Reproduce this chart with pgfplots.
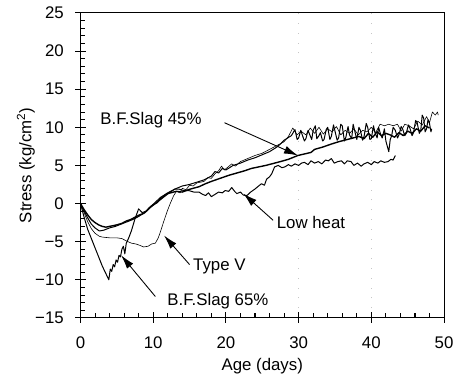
\documentclass[border=0pt]{standalone}
\usepackage{pgfplots}
\pgfplotsset{compat=1.18}
\usepackage{fontspec}
\setmainfont{Liberation Sans}
\usetikzlibrary{arrows.meta}
\newcommand{\fs}{\fontsize{17}{19}\selectfont}
\begin{document}
\fs
\begin{tikzpicture}
\begin{axis}[
 scale only axis, width=366bp, height=307bp,
 xmin=0, xmax=50, ymin=-15, ymax=25,
 xtick={0,10,20,30,40,50}, ytick={-15,-10,-5,0,5,10,15,20,25},
 yticklabels={−15,−10,−5,0,5,10,15,20,25},
 minor x tick num=4, minor y tick num=4,
 tick align=inside, xtick pos=left, ytick pos=left,
 major tick length=6bp, minor tick length=4.5bp,
 tick style={draw=black, line width=1pt},
 axis line style={line width=0.9pt},
 xlabel={Age (days)}, ylabel={Stress (kg/cm\textsuperscript{2})},
 every axis x label/.style={at={(axis description cs:0.5,0)}, anchor=center, yshift=-49bp},
 every axis y label/.style={at={(axis description cs:0,0.5)}, rotate=90, anchor=center, yshift=55bp},
 /pgf/number format/assume math mode=true,
 xticklabel style={font=\fs, yshift=-13bp},
 yticklabel style={font=\fs, xshift=-11bp},
 label style={font=\fs},
 clip=false,
]
\draw[gray!45, line width=0.9pt, dash pattern=on 0.9pt off 9pt] (axis cs:30,-15) -- (axis cs:30,25);
\draw[gray!45, line width=0.9pt, dash pattern=on 0.9pt off 9pt] (axis cs:40,-15) -- (axis cs:40,25);
\pgfplotsinvokeforeach{0,10,20,30,40,50}{\draw[black, line width=0.9pt] ([yshift=-5bp]axis cs:#1,-15) -- ([yshift=6bp]axis cs:#1,-15);}
\pgfplotsinvokeforeach{2,4,6,8,12,14,16,18,22,24,26,28,32,34,36,38,42,44,46,48}{\draw[black, line width=0.9pt] (axis cs:#1,-15) -- ([yshift=4.5bp]axis cs:#1,-15);}
\pgfplotsinvokeforeach{-15,-10,-5,0,5,10,15,20,25}{\draw[black, line width=0.9pt] ([xshift=-5bp]axis cs:0,#1) -- ([xshift=6bp]axis cs:0,#1);}
\pgfplotsinvokeforeach{-14,-13,-12,-11,-9,-8,-7,-6,-4,-3,-2,-1,1,2,3,4,6,7,8,9,11,12,13,14,16,17,18,19,21,22,23,24}{\draw[black, line width=0.9pt] (axis cs:0,#1) -- ([xshift=4.5bp]axis cs:0,#1);}
% B.F.Slag 65%
\addplot[black, line width=1.0pt, line join=round] coordinates {
(0,0) (0.5,-1.8) (1,-3.4) (1.5,-4.6) (2,-5.8) (2.5,-7.0) (3,-8.2) (3.5,-9.2) (3.9,-10.0) (4.1,-8.6) (4.3,-8.9) (4.5,-8.0) (4.7,-8.3) (4.9,-7.4) (5.1,-7.7) (5.3,-6.8) (5.5,-7.0) (5.7,-6.0) (5.9,-5.6) (6.1,-6.6) (6.3,-5.2) (6.6,-4.6) (7.0,-3.6) (7.5,-2.0) (8.0,-0.7) (8.5,-1.2) (9,-1.0) (9.5,-0.5) (10,-0.1) (11,0.8) (12,1.4) (13,1.9) (14,2.3) (15,2.5) (16,2.8) (17,3.1) (18,3.6) (18.5,4.2) (19,4.0) (19.5,4.6) (20,4.4) (21,5.0) (22,5.3) (23,5.7) (24,6.0) (25,6.4) (26,6.8) (27,7.4) (27.5,7.8) (28,8.3) (28.5,8.6) (29,8.9) (29.5,9.7) (29.8,8.4) (30,8.6) (30.3,9.6) (30.5,9.0) (30.8,8.2) (31,8.5) (31.3,9.6) (31.5,9.1) (31.8,8.4) (32,9.6) (32.3,10.2) (32.5,8.5) (32.8,8.9) (33,9.3) (33.3,8.2) (33.5,8.4) (33.8,9.7) (34,10.0) (34.3,8.4) (34.5,8.8) (34.8,10.3) (35,9.5) (35.3,8.3) (35.5,8.6) (35.8,10.4) (36,10.2) (36.3,8.2) (36.5,8.7) (36.8,10.1) (37,9.0) (37.3,8.5) (37.5,10.4) (37.8,9.2) (38,8.4) (38.3,10.0) (38.5,9.6) (38.8,8.3) (39,8.8) (39.3,10.5) (39.5,10.0) (39.8,8.4) (40,8.5) (40.3,10.2) (40.5,9.3) (40.8,8.6) (41,10.0) (41.3,9.0) (41.5,8.6) (41.8,9.8) (42,8.2) (42.4,6.8) (42.6,8.4) (42.8,8.9) (43.0,10.0) (43.3,9.6) (43.6,8.6) (43.8,9.0) (44.1,10.1) (44.3,9.8) (44.6,8.9) (44.8,9.2) (45.1,10.3) (45.3,9.9) (45.6,8.9) (45.8,9.3) (46.1,10.9) (46.3,10.6) (46.6,9.2) (46.8,9.6) (47.0,11.6) (47.2,11.2) (47.4,9.4) (47.6,9.8) (47.8,11.0) (48,10.5) (48.2,9.4) (48.3,9.8)
};
% Type V
\addplot[black, line width=0.6pt, line join=round] coordinates {
(0,0) (0.5,-1.2) (1,-2.4) (1.5,-3.3) (2,-3.9) (2.6,-4.3) (3,-4.4) (4,-4.5) (5,-4.5) (5.7,-4.6) (6.3,-4.9) (7,-5.2) (7.6,-5.3) (8.2,-5.5) (8.7,-5.7) (9.3,-5.6) (9.8,-5.3) (10.3,-5.2) (10.7,-4.5) (11,-3.7) (11.4,-2.5) (11.9,-1.1) (12.3,-0.1) (12.8,1.0) (13.2,1.6) (13.7,1.4) (14,2.0) (14.5,1.8) (15,2.4) (15.5,2.3) (16,2.7) (17,2.9) (17.5,3.4) (18,3.3) (18.5,3.9) (19,4.3) (19.4,4.9) (19.8,4.4) (20.3,4.8) (20.8,5.2) (21.3,4.9) (22,5.5) (23,5.9) (24,6.3) (25,6.6) (26,7.1) (27,7.6) (28,8.1) (28.6,8.8) (29.2,9.9) (29.8,9.0) (30.3,9.5) (31,9.0) (31.6,9.9) (32.2,9.2) (32.8,10.0) (33.4,9.1) (34,9.8) (34.6,9.4) (35.2,10.1) (35.8,9.0) (36.4,9.6) (37,9.2) (37.6,9.8) (38.2,9.0) (38.8,9.6) (39.4,9.4) (40,10.0) (40.6,9.3) (41.2,10.4) (41.8,10.2) (42.4,10.4) (43,10.2) (43.6,10.4) (44.1,9.5) (44.6,10.4) (45.2,10.2) (45.8,9.8) (46.4,10.8) (47,10.3) (47.6,11.4) (48,10.6) (48.4,12.0) (48.8,11.6) (49.1,12.0) (49.2,11.6)
};
% B.F.Slag 45%
\addplot[black, line width=1.4pt, line join=round] coordinates {
(0,0) (0.5,-0.8) (1,-1.5) (1.5,-2.1) (2,-2.5) (2.5,-2.8) (3,-3.0) (3.5,-3.1) (4,-3.0) (4.5,-2.9) (5,-2.8) (5.7,-2.6) (6.3,-2.3) (6.9,-2.1) (7.5,-1.8) (8.1,-1.5) (8.7,-1.3) (9.2,-0.9) (9.7,-0.4) (10.1,-0.1) (10.5,0.1) (11,0.6) (11.5,1.0) (11.9,1.3) (12.4,1.4) (13.2,1.6) (14,1.5) (14.8,1.8) (15.5,2.0) (16.3,2.2) (17.2,2.6) (18,2.9) (19.2,3.3) (20.4,3.7) (21.5,4.0) (22.6,4.3) (23.5,4.6) (24.5,4.8) (25.5,5.0) (26.3,5.2) (27.5,5.5) (28.6,5.8) (29.9,6.3) (30.8,6.5) (31.7,6.7) (32.2,7.1) (33.3,7.4) (34.5,7.8) (35.5,8.1) (36.7,8.4) (37.5,8.6) (38.3,8.8) (39,8.5) (39.6,9.2) (40.2,8.7) (40.8,9.4) (41.4,8.9) (42,9.2) (42.6,9.0) (43.2,8.7) (43.8,9.3) (44.4,8.9) (45,9.5) (45.6,9.2) (46.2,9.8) (46.8,9.5) (47.4,10.2) (48,9.9)
};
% Low heat
\addplot[black, line width=1.0pt, line join=round] coordinates {
(0,0) (0.5,-1.0) (1,-1.9) (1.5,-2.7) (2,-3.2) (2.6,-3.6) (3.2,-3.5) (4,-3.2) (4.8,-3.0) (5.6,-2.7) (6.4,-2.4) (7.2,-2.1) (8,-1.7) (8.8,-1.2) (9.5,-0.6) (10.2,-0.1) (11,0.5) (11.8,1.1) (12.5,1.6) (13,1.9) (13.5,1.9) (14.2,1.7) (14.9,1.7) (15.6,1.5) (16.3,1.5) (16.8,1.2) (17.2,1.05) (17.6,1.4) (18.0,0.9) (18.5,1.2) (19.0,1.5) (19.5,1.4) (19.9,1.7) (20.4,1.6) (20.8,2.1) (21.2,1.6) (21.5,1.3) (22.0,1.5) (22.4,1.1) (22.9,1.05) (23.4,1.5) (24.0,1.9) (24.5,2.3) (24.9,2.6) (25.3,2.4) (25.6,3.2) (26.0,3.5) (26.3,3.9) (26.7,4.8) (27.2,5.0) (27.7,4.7) (28.1,4.8) (28.6,5.1) (29.0,4.9) (29.5,5.2) (30.0,5.0) (30.4,5.3) (30.8,5.4) (31.3,5.1) (31.7,5.6) (32.2,5.3) (32.7,5.5) (33.2,5.2) (33.7,5.7) (34.1,5.6) (34.5,5.9) (34.9,5.3) (35.4,5.5) (35.9,5.6) (36.3,5.2) (36.7,5.6) (37.2,5.5) (37.6,5.0) (38.1,5.3) (38.6,4.9) (39.0,5.2) (39.5,5.4) (40.0,5.1) (40.4,5.5) (40.9,5.3) (41.3,5.6) (41.8,5.4) (42.3,5.5) (42.7,5.8) (43.0,5.7) (43.3,6.3)
};
\node[font=\fs] at (axis cs:9.7,11.0) {B.F.Slag 45\%};
\draw[line width=0.9pt, -{Latex[length=14bp,width=8bp]}] (axis cs:19.8,10.6) -- (axis cs:29.9,6.3);
\node[font=\fs] at (axis cs:31.7,-2.5) {Low heat};
\draw[line width=0.9pt, -{Latex[length=14bp,width=8bp]}] (axis cs:26.5,-2.2) -- (axis cs:22.4,1.3);
\node[font=\fs] at (axis cs:19.1,-8.3) {Type V};
\draw[line width=0.9pt, -{Latex[length=14bp,width=8bp]}] (axis cs:15.0,-8.0) -- (axis cs:11.5,-4.2);
\node[font=\fs] at (axis cs:18.9,-12.8) {B.F.Slag 65\%};
\draw[line width=0.9pt, -{Latex[length=14bp,width=8bp]}] (axis cs:10.3,-12.2) -- (axis cs:5.6,-6.8);
\end{axis}
\path ([xshift=-81bp,yshift=-62bp]current axis.south west) rectangle ([xshift=12bp,yshift=13bp]current axis.north east);
\end{tikzpicture}
\end{document}
